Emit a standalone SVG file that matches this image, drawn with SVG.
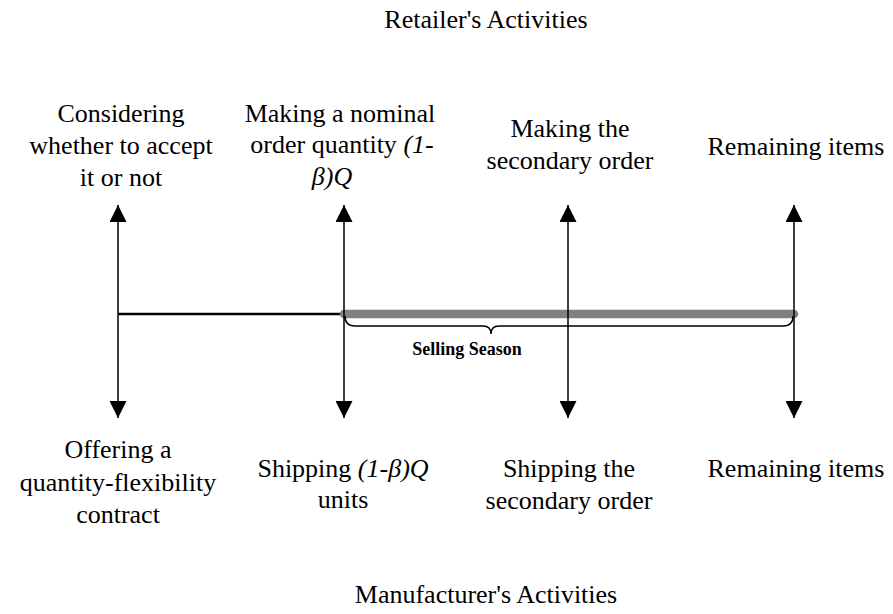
<svg xmlns="http://www.w3.org/2000/svg" width="893" height="614" viewBox="0 0 893 614">
<defs>
<style>
text{font-family:"Liberation Serif","Times New Roman",serif;font-size:26px;fill:#000;text-anchor:middle}
.it{font-style:italic}
.b{font-weight:bold;font-size:18px}
.arr{stroke:#000;stroke-width:1.5;fill:none;marker-start:url(#ah);marker-end:url(#ah)}
</style>
<marker id="ah" viewBox="0 0 17 17" refX="17" refY="8.5" markerWidth="17" markerHeight="17" markerUnits="userSpaceOnUse" orient="auto-start-reverse">
<path d="M0,0 L17,8.5 L0,17 Z" fill="#000"/>
</marker>
</defs>
<rect width="893" height="614" fill="#fff"/>
<g id="connectors">
<line x1="118" y1="314" x2="344" y2="314" stroke="#000" stroke-width="2.4"/>
<line x1="344" y1="314" x2="794" y2="314" stroke="#808080" stroke-width="8.5" stroke-linecap="round"/>
<path d="M345,316 Q345,326 355,326 L483,326 Q491,326 491,334 Q491,326 499,326 L783,326 Q793,326 793,316" stroke="#000" stroke-width="1.5" fill="none"/>
<line class="arr" x1="118" y1="205" x2="118" y2="418"/>
<line class="arr" x1="344" y1="205" x2="344" y2="418"/>
<line class="arr" x1="568" y1="205" x2="568" y2="418"/>
<line class="arr" x1="794" y1="205" x2="794" y2="418"/>
</g>
<g id="title-retailer"><text x="486" y="28">Retailer's Activities</text></g>
<g id="title-manufacturer"><text x="486" y="603">Manufacturer's Activities</text></g>
<g id="selling-season"><text class="b" x="467" y="355">Selling Season</text></g>
<g id="r1"><text x="121" y="122">Considering</text><text x="121" y="154">whether to accept</text><text x="121" y="186">it or not</text></g>
<g id="r2"><text x="340" y="122">Making a nominal</text><text x="342" y="153">order quantity <tspan class="it">(1-</tspan></text><text x="332" y="185" class="it">β)Q</text></g>
<g id="r3"><text x="570" y="137">Making the</text><text x="570" y="169">secondary order</text></g>
<g id="r4"><text x="796" y="155">Remaining items</text></g>
<g id="m1"><text x="118" y="458">Offering a</text><text x="118" y="491">quantity-flexibility</text><text x="118" y="523">contract</text></g>
<g id="m2"><text x="343" y="477">Shipping <tspan class="it">(1-β)Q</tspan></text><text x="343" y="508">units</text></g>
<g id="m3"><text x="569" y="477">Shipping the</text><text x="569" y="509">secondary order</text></g>
<g id="m4"><text x="796" y="477">Remaining items</text></g>
</svg>
